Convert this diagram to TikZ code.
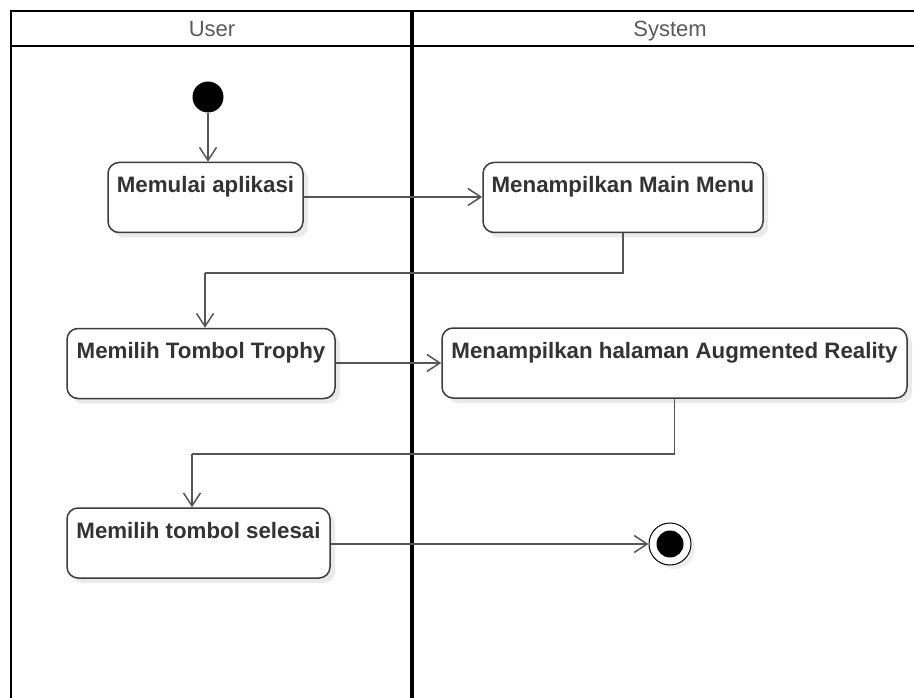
\documentclass[tikz,border=0pt]{standalone}
\usepackage{fontspec}
\setmainfont{Liberation Sans}
\usetikzlibrary{arrows.meta,shadows}
\definecolor{edgegray}{HTML}{3C3C3C}
\definecolor{linegray}{HTML}{555555}
\definecolor{txtgray}{HTML}{333333}
\definecolor{headgray}{HTML}{5A5A5A}
\begin{document}
\begin{tikzpicture}[x=1pt,y=-1pt,
  lane/.style={draw=black},
  lanehead/.style={font=\fontsize{22}{24}\selectfont, text=headgray, anchor=base},
  action/.style={draw=edgegray, line width=1.5pt, fill=white, rounded corners=11pt,
    inner xsep=0pt, inner ysep=4pt, text height=26pt, text depth=36pt,
    font=\fontsize{22.3}{24}\selectfont\bfseries, text=txtgray,
    drop shadow={opacity=0.16, shadow xshift=5pt, shadow yshift=-5pt}},
  flow/.style={draw=linegray, line width=1.5pt, -{Straight Barb[length=13pt,width=17pt,line width=1.5pt]}},
  initial/.style={circle, fill=black, minimum size=31pt, inner sep=0pt},
  finalouter/.style={circle, draw=black, line width=1pt, fill=white, minimum size=42pt, inner sep=0pt,
    drop shadow={opacity=0.12, shadow xshift=4pt, shadow yshift=-4pt}},
  finalinner/.style={circle, fill=black, minimum size=27pt, inner sep=0pt}
]
\useasboundingbox (0,0) rectangle (914,698);
\fill[white] (0,0) rectangle (914,698);

% swimlane frame
\draw[lane, line width=2.5pt] (914,11) -- (11,11) -- (11,698);
\draw[lane, line width=2pt] (11,46) -- (914,46);
\draw[lane, line width=3.5pt] (412,11) -- (412,698);
\node[lanehead] (hUser) at (212,37) {User};
\node[lanehead] (hSys) at (670,37) {System};

% start and end markers
\node[initial] (start) at (208,97) {};
\node[finalouter] (stop) at (670,544) {};
\node[finalinner] (stopdot) at (stop.center) {};

% actions
\node[action, minimum width=195pt] (b1) at (205.5,197.5) {Memulai aplikasi};
\node[action, minimum width=280pt] (b2) at (623,197.5) {Menampilkan Main Menu};
\node[action, minimum width=268pt] (b3) at (201,363.5) {Memilih Tombol Trophy};
\node[action, minimum width=465pt] (b4) at (674.5,363) {Menampilkan halaman Augmented Reality};
\node[action, minimum width=263pt] (b5) at (198.5,543) {Memilih tombol selesai};

% bend points of the return flows
\coordinate (k1) at (205,273);
\coordinate (k2) at (192,454);

% flows
\draw[flow] (start) -- (start |- b1.north);
\draw[flow] (b1.east |- 0,197) -- (b2.west |- 0,197);
\draw[flow, -] (b2.south) |- (k1);
\draw[flow] (k1) -- (k1 |- b3.north);
\draw[flow] (b3.east |- 0,363) -- (b4.west |- 0,363);
\draw[flow, -] (b4.south) |- (k2);
\draw[flow] (k2) -- (k2 |- b5.north);
\draw[flow] (b5.east |- stop) -- (stop.west);
\end{tikzpicture}
\end{document}
